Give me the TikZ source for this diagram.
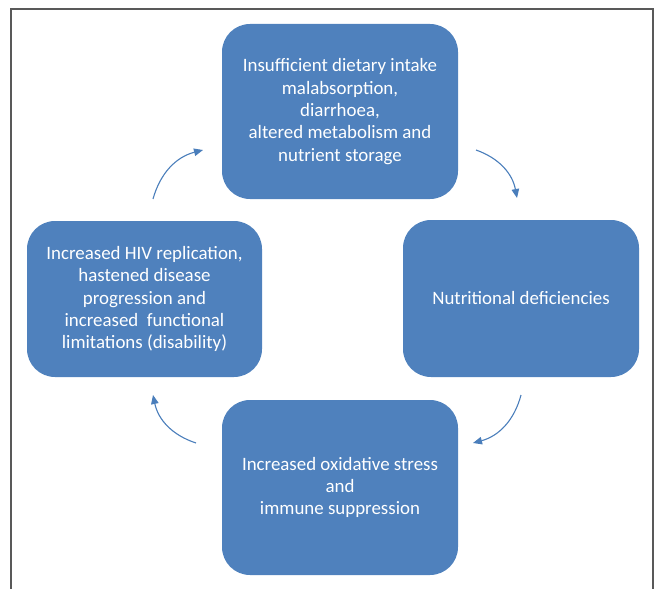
\documentclass[tikz,border=0pt]{standalone}
\usepackage{fontspec}
\usepackage{xcolor}
\setmainfont{Carlito}
\usetikzlibrary{shapes, positioning, arrows.meta}
\definecolor{boxblue}{HTML}{4F81BD}
\definecolor{arrowblue}{HTML}{4A7EBB}

\begin{document}
\begin{tikzpicture}[x=100pt, y=100pt,
        cyclebox/.style={rectangle, rounded corners=28pt, fill=boxblue, text=white,
            minimum width=236pt, align=center, inner sep=0pt,
            font=\fontsize{18.9}{22.3}\selectfont},
        cyclearrow/.style={arrowblue, line width=1.1pt, -{Triangle[length=9pt, width=7.5pt]}}]
        \useasboundingbox (0, 0) rectangle (6.60, -5.88);
        \draw[black!65, line width=1.3pt] (0.11, -5.95) -- (0.11, -0.09) -- (6.53, -0.09) -- (6.53, -5.95);

        \node[cyclebox, minimum height=175pt] (intake) at (3.40, -1.115) {Insufficient dietary intake\\malabsorption,\\diarrhoea,\\altered metabolism and\\nutrient storage};
        \node[cyclebox, minimum height=157pt] (defic) at (5.21, -2.985) {Nutritional deficiencies};
        \node[cyclebox, minimum height=175pt] (stress) at (3.40, -4.875) {Increased oxidative stress\\and\\immune suppression};
        \node[cyclebox, minimum width=235pt, minimum height=156pt] (hiv) at (1.445, -2.99) {Increased HIV replication,\\hastened disease\\progression and\\increased\ \ functional\\limitations (disability)};

        \coordinate (p1) at (4.76, -1.50);
        \coordinate (p2) at (5.17, -1.98);
        \coordinate (p3) at (5.21, -3.95);
        \coordinate (p4) at (4.73, -4.43);
        \coordinate (p5) at (1.96, -4.43);
        \coordinate (p6) at (1.53, -3.95);
        \coordinate (p7) at (1.53, -1.99);
        \coordinate (p8) at (2.03, -1.50);

        \draw[cyclearrow] (p1) to[bend left=30] (p2);
        \draw[cyclearrow] (p3) to[bend left=30] (p4);
        \draw[cyclearrow] (p5) to[bend left=30] (p6);
        \draw[cyclearrow] (p7) to[bend left=30] (p8);
    \end{tikzpicture}
\end{document}
